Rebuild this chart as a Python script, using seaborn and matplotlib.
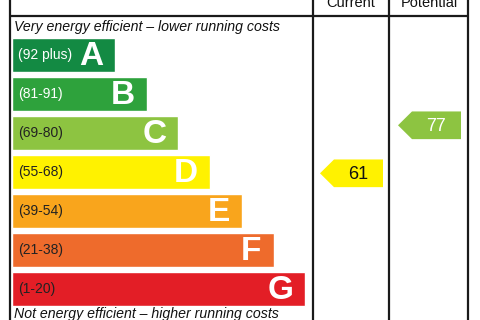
import matplotlib
matplotlib.use("Agg")
import matplotlib.pyplot as plt
import seaborn as sns
import pandas as pd
from matplotlib.patches import Polygon

# ---- data ----
bands = ["A", "B", "C", "D", "E", "F", "G"]
ranges = ["(92 plus)", "(81-91)", "(69-80)", "(55-68)", "(39-54)", "(21-38)", "(1-20)"]
band_low = [92, 81, 69, 55, 39, 21, 1]
band_high = [100, 91, 80, 68, 54, 38, 20]
bar_length = [3.25, 4.25, 5.25, 6.25, 7.25, 8.25, 9.25]
band_colors = ["#138a43", "#2ea23c", "#8dc441", "#fff200", "#f9a51c", "#ee6b2c", "#e31e26"]
range_text_colors = ["white", "white", "#222222", "#222222", "#222222", "#222222", "#222222"]
headers = ["Current", "Potential"]
current_score = 61
potential_score = 77
top_note = "Very energy efficient \u2013 lower running costs"
bottom_note = "Not energy efficient \u2013 higher running costs"

sns.set_theme(style="white")
plt.rcParams["font.family"] = ["Liberation Sans", "DejaVu Sans"]

fig = plt.figure(figsize=(4.8, 3.2), dpi=100)
ax = fig.add_axes([0, 0, 1, 1])

df = pd.DataFrame({"band": bands, "length": bar_length})
sns.barplot(data=df, y="band", x="length", hue="band", palette=band_colors,
            order=bands, hue_order=bands, orient="h", width=0.87, ax=ax,
            legend=False, saturation=1)

# layout helpers (pixel -> data)
PX = 31.7
X0 = 12.0
Y0 = 55.0
DY = 39.0


def xu(px):
    return (px - X0) / PX


def yu(py):
    return (py - Y0) / DY


ax.set_xlim(xu(0), xu(480))
ax.set_ylim(yu(320), yu(0))
ax.axis("off")

line_kw = dict(color="#1a1a1a", lw=1.6, clip_on=False, solid_capstyle="butt")
for xp in [10, 313, 389, 468]:
    ax.plot([xu(xp), xu(xp)], [yu(0), yu(320)], **line_kw)
ax.plot([xu(10), xu(468)], [yu(16.5), yu(16.5)], **line_kw)

ax.text(xu(351), yu(3), headers[0], ha="center", va="center", fontsize=10.5, color="#111111")
ax.text(xu(429), yu(3), headers[1], ha="center", va="center", fontsize=10.5, color="#111111")

ax.text(xu(14), yu(27), top_note, ha="left", va="center", fontsize=10.2, style="italic", color="#111111")
ax.text(xu(14), yu(314), bottom_note, ha="left", va="center", fontsize=10.2, style="italic", color="#111111")

for i, (b, r, L, tc) in enumerate(zip(bands, ranges, bar_length, range_text_colors)):
    ax.text(xu(18), i, r, ha="left", va="center", fontsize=10, color=tc)
    ax.text(L - 0.38, i + 0.04, b, ha="right", va="center", fontsize=24,
            fontweight="bold", color="white")

H = 0.87


def score_y(score):
    for i, (lo, hi) in enumerate(zip(band_low, band_high)):
        if lo <= score <= hi:
            frac = (score - lo) / (hi - lo)
            return i + H / 2 - frac * H
    return 0


def arrow(score, tip_px, text_color):
    y = score_y(score)
    idx = [i for i, (lo, hi) in enumerate(zip(band_low, band_high)) if lo <= score <= hi][0]
    color = band_colors[idx]
    hh = 0.355
    pts = [(xu(tip_px), y), (xu(tip_px + 14), y - hh), (xu(tip_px + 63), y - hh),
           (xu(tip_px + 63), y + hh), (xu(tip_px + 14), y + hh)]
    ax.add_patch(Polygon(pts, closed=True, facecolor=color, edgecolor="none"))
    ax.text(xu(tip_px + 38), y + 0.02, str(score), ha="center", va="center", fontsize=13, color=text_color)


arrow(current_score, 320, "#111111")
arrow(potential_score, 398, "white")

fig.savefig("out.png", dpi=100)
